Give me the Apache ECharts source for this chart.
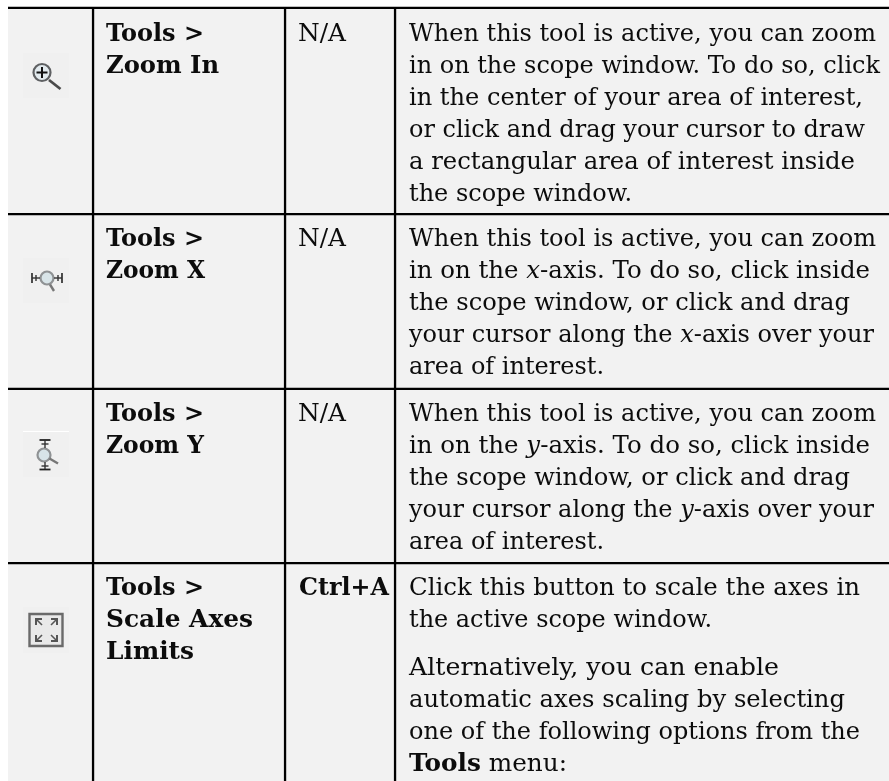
<!DOCTYPE html>
<html>
<head>
<meta charset="utf-8">
<style>html,body{margin:0;padding:0;background:#fff}#c{width:889px;height:781px}</style>
<script src="https://cdn.jsdelivr.net/npm/echarts@6/dist/echarts.min.js"></script>
</head>
<body>
<div id="c"></div>
<script>
// ---- table content ----
const menuItems = [
  ["Tools >", "Zoom In"],
  ["Tools >", "Zoom X"],
  ["Tools >", "Zoom Y"],
  ["Tools >", "Scale Axes", "Limits"]
];
const shortcuts = ["N/A", "N/A", "N/A", "Ctrl+A"];
const descriptions = [
  ["When this tool is active, you can zoom",
   "in on the scope window. To do so, click",
   "in the center of your area of interest,",
   "or click and drag your cursor to draw",
   "a rectangular area of interest inside",
   "the scope window."],
  ["When this tool is active, you can zoom",
   "in on the *x*-axis. To do so, click inside",
   "the scope window, or click and drag",
   "your cursor along the *x*-axis over your",
   "area of interest."],
  ["When this tool is active, you can zoom",
   "in on the *y*-axis. To do so, click inside",
   "the scope window, or click and drag",
   "your cursor along the *y*-axis over your",
   "area of interest."],
  ["Click this button to scale the axes in",
   "the active scope window.",
   "",
   "Alternatively, you can enable",
   "automatic axes scaling by selecting",
   "one of the following options from the",
   "#Tools# menu:"]
];

// ---- layout (page geometry, kept apart from the content) ----
const FONT = '"DejaVu Serif"', SIZE = 24, LINE = 32, INK = '#0c0c0c', MID = 0.29;
const rowLines = [[6.8, 2.2], [213, 2.3], [387.8, 2.3], [561.9, 2.3]];
const colLines = [91.9, 283.9, 393.9];
const firstBaseline = [41.5, 247, 422, 596];
const menuEnds = [[204, 219], [204, 205], [204, 204], [204, 253, 194]];
const shortcutSpan = [[298, 346], [298, 346], [298, 346], [299, 389]];
const descEnds = [
  [876, 880, 863, 865, 855, 632],
  [876, 870, 850, 874, 604],
  [876, 870, 850, 874, 604],
  [860, 712, 0, 779, 845, 860, 567]
];

const ctx = document.createElement('canvas').getContext('2d');
function fontStr(bold, italic) {
  return (italic ? 'italic ' : '') + (bold ? 'bold ' : '') + SIZE + 'px ' + FONT;
}
function parse(line, bold) {
  const out = [];
  line.split(/([*#][^*#]+[*#])/).forEach(p => {
    if (!p) return;
    if (p[0] === '*') out.push({ t: p.slice(1, -1), i: true, b: bold });
    else if (p[0] === '#') out.push({ t: p.slice(1, -1), i: false, b: true });
    else out.push({ t: p, i: false, b: bold });
  });
  return out;
}
function textLine(line, x0, x1, baseline, bold) {
  const segs = parse(line, bold);
  let w = 0;
  segs.forEach(s => { ctx.font = fontStr(s.b, s.i); s.w = ctx.measureText(s.t).width; w += s.w; });
  const k = (x1 - x0) / w;
  let x = x0;
  return segs.map(s => {
    const el = {
      type: 'text', silent: true, x: x, y: baseline - MID * SIZE, scaleX: k,
      style: { text: s.t, x: 0, y: 0, fill: INK, fontFamily: FONT, fontSize: SIZE,
               fontWeight: s.b ? 'bold' : 'normal', fontStyle: s.i ? 'italic' : 'normal',
               align: 'left', verticalAlign: 'middle' }
    };
    x += s.w * k;
    return el;
  });
}
const rect = (x, y, w, h, fill) => ({ type: 'rect', silent: true, shape: { x, y, width: w, height: h }, style: { fill } });
const seg = (x1, y1, x2, y2, stroke, lineWidth) => ({ type: 'line', silent: true, shape: { x1, y1, x2, y2 }, style: { stroke, lineWidth, lineCap: 'butt' } });
const circ = (cx, cy, r, fill, stroke, lineWidth) => ({ type: 'circle', silent: true, shape: { cx, cy, r }, style: { fill, stroke, lineWidth } });
const poly = (points, stroke, lineWidth) => ({ type: 'polyline', silent: true, shape: { points }, style: { stroke, lineWidth, fill: 'none' } });

const els = [];
els.push(rect(8, 7, 881, 774, '#f2f2f2'));

// icon tiles and glyphs
els.push(rect(23, 53, 46, 45, '#f0f0f0'));
els.push(circ(42, 72.5, 8.5, '#e2eaee', '#5f6163', 2.2));
els.push(seg(36.5, 72.5, 47.5, 72.5, '#111', 2));
els.push(seg(42, 67, 42, 78, '#111', 2));
els.push(seg(49, 80, 60.5, 89, '#4a4a4a', 2.8));

els.push(rect(23, 258, 46, 45, '#f0f0f0'));
els.push(circ(47, 278, 6.5, '#d8e4e8', '#8f9294', 2.2));
els.push(seg(50, 284.5, 54, 291, '#777', 2.4));
els.push(seg(32, 273, 32, 283, '#222', 1.6));
els.push(seg(32, 278, 40, 278, '#333', 1.4));
els.push(seg(36, 275, 36, 281, '#333', 1.4));
els.push(seg(62, 273, 62, 283, '#222', 1.6));
els.push(seg(54, 278, 62, 278, '#333', 1.4));
els.push(seg(58, 275, 58, 281, '#333', 1.4));

els.push(rect(23, 431, 46, 46, '#f0f0f0'));
els.push(rect(23, 431, 46, 1, '#ffffff'));
els.push(circ(44, 455, 6.5, '#d8e4e8', '#8f9294', 2.2));
els.push(seg(49.5, 458.5, 58, 463.5, '#777', 2.4));
els.push(seg(39.5, 440, 50.5, 440, '#222', 1.8));
els.push(seg(41.5, 444, 48.5, 444, '#333', 1.4));
els.push(seg(45, 440, 45, 448, '#333', 1.4));
els.push(seg(39.5, 469.5, 50.5, 469.5, '#222', 1.8));
els.push(seg(41.5, 466, 48.5, 466, '#333', 1.4));
els.push(seg(45, 462, 45, 469, '#333', 1.4));

els.push(rect(23, 607, 46, 46, '#f0f0f0'));
els.push({ type: 'rect', silent: true, shape: { x: 29.5, y: 614, width: 33, height: 32 }, style: { fill: '#e9e9e9', stroke: '#6a6a6a', lineWidth: 2.4 } });
els.push(poly([[36, 625], [36, 619], [42, 619]], '#555', 2));
els.push(seg(36, 619, 42, 625, '#555', 1.6));
els.push(poly([[51, 619], [57, 619], [57, 625]], '#555', 2));
els.push(seg(57, 619, 51, 625, '#555', 1.6));
els.push(poly([[36, 635], [36, 641], [42, 641]], '#555', 2));
els.push(seg(36, 641, 42, 635, '#555', 1.6));
els.push(poly([[51, 641], [57, 641], [57, 635]], '#555', 2));
els.push(seg(57, 641, 51, 635, '#555', 1.6));

// rules
rowLines.forEach(r => els.push(rect(8, r[0], 881, r[1], '#000')));
colLines.forEach(x => els.push(rect(x, 7, 2.3, 774, '#000')));

// text
menuItems.forEach((lines, r) => lines.forEach((l, i) =>
  els.push(...textLine(l, 106, menuEnds[r][i], firstBaseline[r] + i * LINE, true))));
shortcuts.forEach((s, r) =>
  els.push(...textLine(s, shortcutSpan[r][0], shortcutSpan[r][1], firstBaseline[r], r === 3)));
descriptions.forEach((lines, r) => {
  let b = firstBaseline[r];
  lines.forEach((l, i) => {
    if (l === '') { b += LINE / 2; return; }
    els.push(...textLine(l, 409, descEnds[r][i], b, false));
    b += LINE;
  });
});

const chart = echarts.init(document.getElementById('c'), null, { renderer: 'canvas' });
chart.setOption({ animation: false, backgroundColor: '#ffffff', graphic: { elements: els } });
</script>
</body>
</html>
